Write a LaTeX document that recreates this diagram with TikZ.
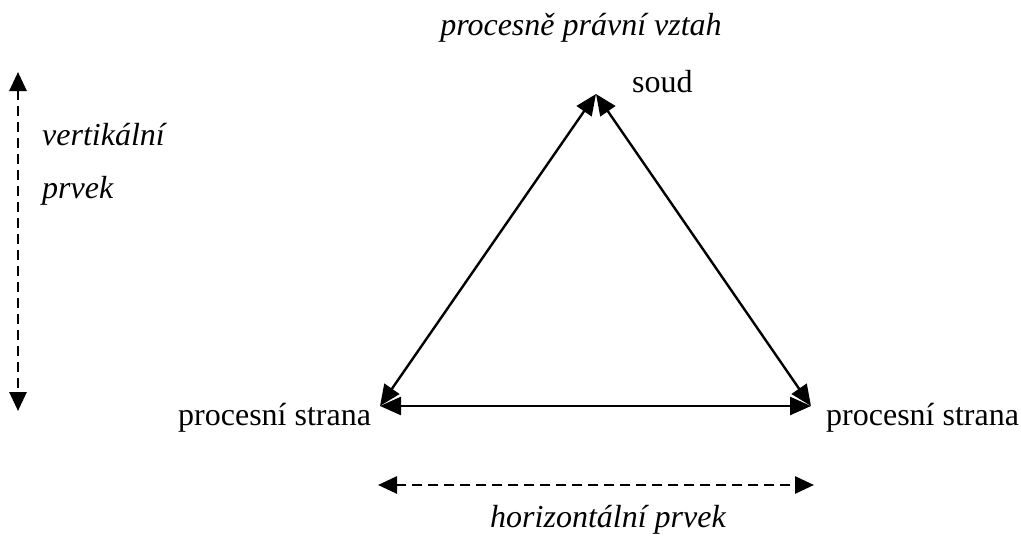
\documentclass[tikz,border=0pt]{standalone}
\usepackage{fontspec}
\setmainfont{Liberation Serif}
\usetikzlibrary{arrows.meta}
\begin{document}
\begin{tikzpicture}[x=1pt,y=-1pt,
  lbl/.style={font=\fontsize{32}{38}\selectfont, inner sep=0pt},
  ilbl/.style={lbl, font=\fontsize{32}{38}\selectfont\itshape},
  tri/.style={line width=2.4pt, {Triangle[length=21pt,width=18pt]}-{Triangle[length=21pt,width=18pt]}},
  dsh/.style={line width=2.8pt, dash pattern=on 10pt off 6pt, {Triangle[length=19pt,width=17pt]}-{Triangle[length=19pt,width=17pt]}}
]
\useasboundingbox (0,0) rectangle (1021,538);
\coordinate (top) at (596,94);
\coordinate (bl) at (380,406);
\coordinate (br) at (811,406);
\coordinate (vt) at (18,72);
\coordinate (vb) at (18,411);
\coordinate (hl) at (378,485);
\coordinate (hr) at (814,485);
\draw[tri] (top) -- (bl);
\draw[tri] (top) -- (br);
\draw[tri] (bl) -- (br);
\draw[dsh] (vt) -- (vb);
\draw[dsh] (hl) -- (hr);
\node[ilbl, anchor=base] (title) at (581,35) {procesně právní vztah};
\node[lbl, anchor=base west] (soud) at (632,92) {soud};
\node[ilbl, anchor=base west] (vert) at (42,145) {vertikální};
\node[ilbl, anchor=base west] (prvek) at (42,198) {prvek};
\node[lbl, anchor=base west] (psl) at (178,425) {procesní strana};
\node[lbl, anchor=base west] (psr) at (826,425) {procesní strana};
\node[ilbl, anchor=base] (horiz) at (608,527) {horizontální prvek};
\end{tikzpicture}
\end{document}
